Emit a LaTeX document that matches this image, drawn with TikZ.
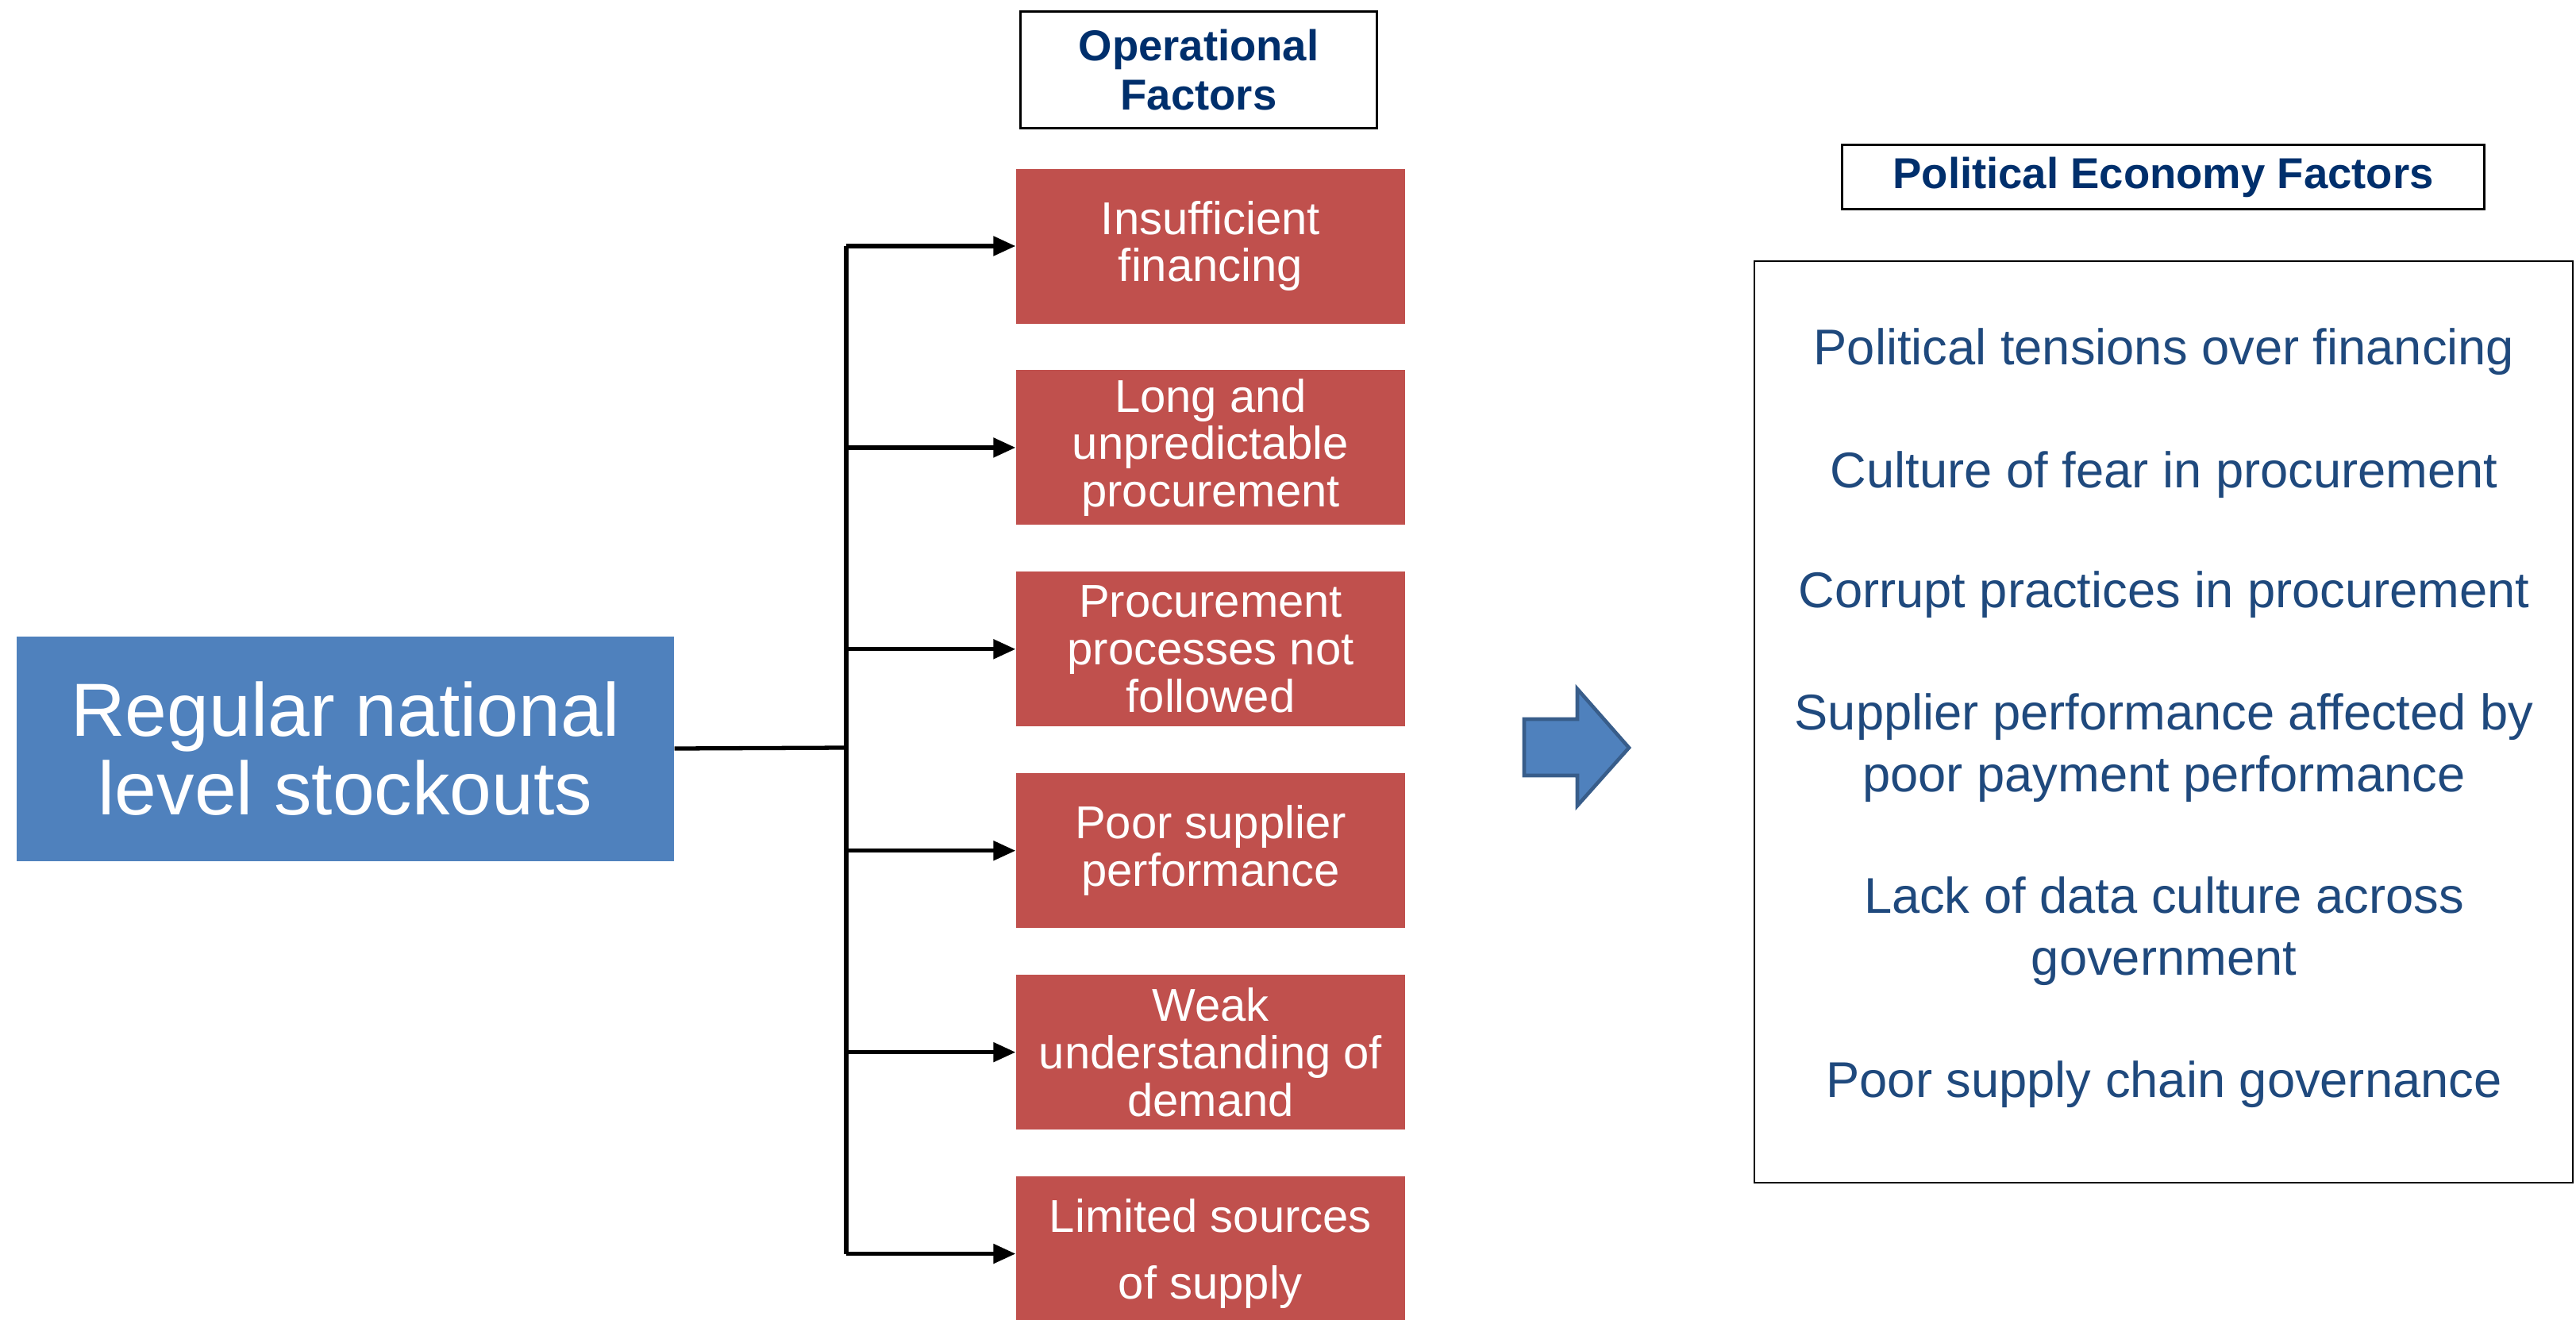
\documentclass[tikz,border=0pt]{standalone}
\usepackage{fontspec}
\setmainfont{Liberation Sans}
\usepackage{tikz}
\definecolor{officeblue}{RGB}{79,129,189}
\definecolor{officered}{RGB}{192,80,77}
\definecolor{headnavy}{RGB}{0,47,108}
\definecolor{textnavy}{RGB}{31,73,125}
\definecolor{arrowedge}{RGB}{56,93,138}
\usetikzlibrary{
  arrows.meta,
  positioning,
}
\tikzset{
  >={Triangle[length=2.8mm,width=2.4mm]},
  cause/.style={rectangle,fill=officered,text=white,minimum width=4.9cm,minimum height=1.95cm,align=center,inner sep=0pt,font=\fontsize{16.5}{17}\selectfont},
  header/.style={draw,rectangle,line width=0.8pt,text=headnavy,align=center,inner sep=0pt,font=\fontsize{15.5}{17.6}\selectfont\bfseries},
  factor/.style={text=textnavy,align=center,inner sep=0pt,font=\fontsize{18}{22}\selectfont},
  link/.style={line width=1.5pt},
}
\begin{document}
\begin{tikzpicture}[node distance=5.75mm and 0mm]
        \clip (0,0) rectangle (32.45,-16.63);

        \node[header,minimum width=4.49cm,minimum height=1.47cm]    (ophead) at (15.10,-0.88)   {Operational\\Factors};
        \node[cause]    (c1) at (15.25,-3.10)       {Insufficient\\financing};
        \node[cause]    (c2) [below=of c1]       {Long and\\unpredictable\\procurement};
        \node[cause]    (c3) [below=of c2]       {Procurement\\processes not\\followed};
        \node[cause]    (c4) [below=of c3]       {Poor supplier\\performance};
        \node[cause]    (c5) [below=of c4]       {Weak\\understanding of\\demand};
        \node[cause]    (c6) [below=of c5]       {Limited sources\\[7pt]of supply};

        \node[rectangle,fill=officeblue,text=white,minimum width=8.28cm,minimum height=2.83cm,align=center,font=\fontsize{27}{28}\selectfont]    (stock) at (4.35,-9.43)    {Regular national\\level stockouts};
        \coordinate (split) at (10.66,-9.42);

        \draw[link] (stock.east) -- (split);
        \draw[link] (split |- c1.west) -- (split |- c6.west);
        \draw[link,->] (split |- c1.west) -- (c1.west);
        \draw[link,->] (split |- c2.west) -- (c2.west);
        \draw[link,->] (split |- c3.west) -- (c3.west);
        \draw[link,->] (split |- c4.west) -- (c4.west);
        \draw[link,->] (split |- c5.west) -- (c5.west);
        \draw[link,->] (split |- c6.west) -- (c6.west);

        % block arrow towards the political economy side
        \draw[fill=officeblue,draw=arrowedge,line width=1.3pt,line join=miter] (19.20,-9.06) -- (19.87,-9.06) -- (19.87,-8.68) -- (20.52,-9.42) -- (19.87,-10.15) -- (19.87,-9.77) -- (19.20,-9.77) -- cycle;

        \node[header,minimum width=8.09cm,minimum height=0.81cm]    (pehead) at (27.25,-2.23)   {Political Economy Factors};
        \node[draw,rectangle,line width=0.8pt,minimum width=10.31cm,minimum height=11.61cm,inner sep=0pt]    (pebox) at (27.255,-9.095)   {};
        \node[factor]    (p1) at (27.26,-4.43)    {Political tensions over financing};
        \node[factor]    (p2) at (27.26,-5.98)    {Culture of fear in procurement};
        \node[factor]    (p3) at (27.26,-7.49)    {Corrupt practices in procurement};
        \node[factor]    (p4) at (27.26,-9.42)    {Supplier performance affected by\\poor payment performance};
        \node[factor]    (p5) at (27.26,-11.73)   {Lack of data culture across\\government};
        \node[factor]    (p6) at (27.26,-13.66)   {Poor supply chain governance};

    \end{tikzpicture}
\end{document}
